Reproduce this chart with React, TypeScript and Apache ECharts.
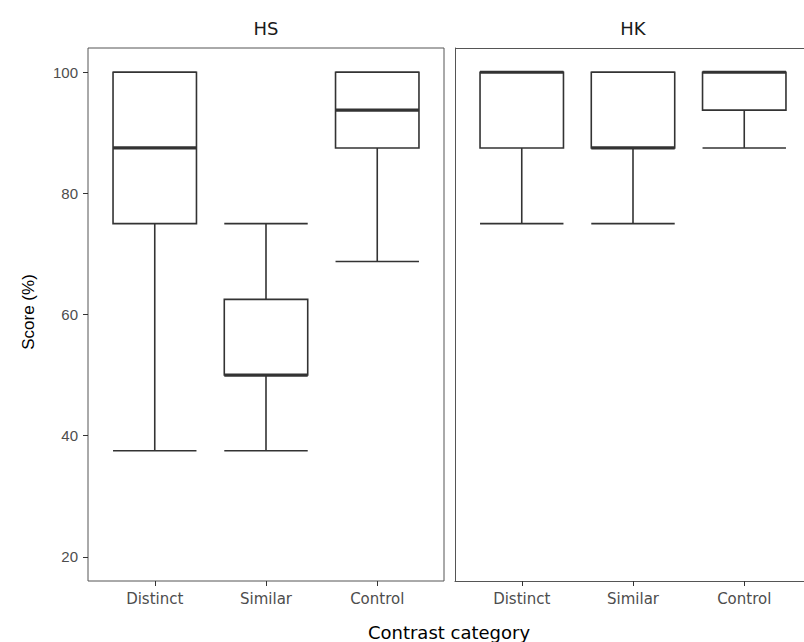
import React, { useEffect, useRef } from 'react';
import * as echarts from 'echarts';

const categories = ['Distinct', 'Similar', 'Control'];
const panels = ['HS', 'HK'];

// HS group: whisker low, Q1, median, Q3, whisker high
const hsLow = [37.5, 37.5, 68.75];
const hsQ1 = [75, 50, 87.5];
const hsMedian = [87.5, 50, 93.75];
const hsQ3 = [100, 62.5, 100];
const hsHigh = [100, 75, 100];

// HK group
const hkLow = [75, 75, 87.5];
const hkQ1 = [87.5, 87.5, 93.75];
const hkMedian = [100, 87.5, 100];
const hkQ3 = [100, 100, 100];
const hkHigh = [100, 100, 100];

const yTicks = [20, 40, 60, 80, 100];
const xTicks = [1, 2, 3];

const FONT = 'Liberation Sans';
const WIDE_FONT = 'DejaVu Sans';
const STROKE = '#333333';
const BORDER = '#555555';

function buildData(low: number[], q1: number[], med: number[], q3: number[], high: number[]) {
  return categories.map((_, j) => [j + 1, low[j], q1[j], med[j], q3[j], high[j]]);
}

function renderBox(params: any, api: any) {
  const x = api.value(0);
  const lo = api.coord([x, api.value(1)]);
  const q1 = api.coord([x, api.value(2)]);
  const md = api.coord([x, api.value(3)]);
  const q3 = api.coord([x, api.value(4)]);
  const hi = api.coord([x, api.value(5)]);
  const w = api.size([0.75, 0])[0];
  const cx = lo[0];
  const l = cx - w / 2;
  const r = cx + w / 2;
  const lw = 1.6;
  const children: any[] = [];
  if (q3[1] - hi[1] > 0.5) {
    children.push({ type: 'line', shape: { x1: cx, y1: hi[1], x2: cx, y2: q3[1] }, style: { stroke: STROKE, lineWidth: lw } });
  }
  if (lo[1] - q1[1] > 0.5) {
    children.push({ type: 'line', shape: { x1: cx, y1: q1[1], x2: cx, y2: lo[1] }, style: { stroke: STROKE, lineWidth: lw } });
  }
  children.push({ type: 'line', shape: { x1: l, y1: hi[1], x2: r, y2: hi[1] }, style: { stroke: STROKE, lineWidth: lw } });
  children.push({ type: 'line', shape: { x1: l, y1: lo[1], x2: r, y2: lo[1] }, style: { stroke: STROKE, lineWidth: lw } });
  children.push({
    type: 'rect',
    shape: { x: l, y: q3[1], width: w, height: Math.max(q1[1] - q3[1], 0.01) },
    style: { fill: '#ffffff', stroke: STROKE, lineWidth: lw },
  });
  children.push({ type: 'line', shape: { x1: l, y1: md[1], x2: r, y2: md[1] }, style: { stroke: STROKE, lineWidth: 3.2 } });
  return { type: 'group', children };
}

export default function App() {
  const ref = useRef<HTMLDivElement>(null);

  useEffect(() => {
    if (!ref.current) return;
    const chart = echarts.init(ref.current, null, { renderer: 'svg' });

    const gridLefts = [88, 455];
    const grids = gridLefts.map((left, i) => ({
      left,
      top: 48,
      width: 356,
      height: 533,
      show: i === 0,
      borderColor: BORDER,
      borderWidth: 1,
      backgroundColor: '#ffffff',
      containLabel: false,
      outerBoundsMode: 'none',
    }));

    const xAxes = panels.map((_, i) => ({
      type: 'value',
      gridIndex: i,
      min: 0.4,
      max: 3.6,
      splitLine: { show: false },
      axisLine: { show: i === 1, lineStyle: { color: BORDER, width: 1 } },
      axisTick: { show: true, customValues: xTicks, length: 5, lineStyle: { color: STROKE, width: 1 } },
      axisLabel: {
        show: true,
        customValues: xTicks,
        formatter: (v: number) => categories[Math.round(v) - 1] ?? '',
        color: '#4d4d4d',
        fontSize: 15,
        fontFamily: WIDE_FONT,
        margin: 10,
      },
    }));

    const yAxes = panels.map((_, i) => ({
      type: 'value',
      gridIndex: i,
      min: 16,
      max: 104,
      splitLine: { show: false },
      axisLine: { show: i === 1, lineStyle: { color: BORDER, width: 1 } },
      axisTick: { show: i === 0, customValues: yTicks, length: 5, lineStyle: { color: STROKE, width: 1 } },
      axisLabel: {
        show: i === 0,
        customValues: yTicks,
        color: '#4d4d4d',
        fontSize: 15,
        fontFamily: FONT,
        margin: 10,
      },
    }));

    const series = [
      {
        type: 'custom',
        name: panels[0],
        xAxisIndex: 0,
        yAxisIndex: 0,
        renderItem: renderBox,
        data: buildData(hsLow, hsQ1, hsMedian, hsQ3, hsHigh),
      },
      {
        type: 'custom',
        name: panels[1],
        xAxisIndex: 1,
        yAxisIndex: 1,
        renderItem: renderBox,
        data: buildData(hkLow, hkQ1, hkMedian, hkQ3, hkHigh),
      },
    ];

    const option: any = {
      animation: false,
      backgroundColor: '#ffffff',
      textStyle: { fontFamily: FONT },
      grid: grids,
      xAxis: xAxes,
      yAxis: yAxes,
      series,
      graphic: [
        {
          type: 'line',
          shape: { x1: 455, y1: 48.5, x2: 804, y2: 48.5 },
          style: { stroke: BORDER, lineWidth: 1 },
          silent: true,
        },
        {
          type: 'text',
          x: 88 + 178,
          y: 28,
          style: { text: panels[0], fontSize: 18, fontFamily: WIDE_FONT, fill: '#1a1a1a', textAlign: 'center', textVerticalAlign: 'middle' },
        },
        {
          type: 'text',
          x: 455 + 178,
          y: 28,
          style: { text: panels[1], fontSize: 18, fontFamily: WIDE_FONT, fill: '#1a1a1a', textAlign: 'center', textVerticalAlign: 'middle' },
        },
        {
          type: 'text',
          x: 449,
          y: 632,
          style: { text: 'Contrast category', fontSize: 18, fontFamily: WIDE_FONT, fill: '#000000', textAlign: 'center', textVerticalAlign: 'middle' },
        },
        {
          type: 'text',
          x: 28,
          y: 312,
          rotation: Math.PI / 2,
          style: { text: 'Score (%)', fontSize: 17, fontFamily: FONT, fill: '#000000', textAlign: 'center', textVerticalAlign: 'middle' },
        },
      ],
    };

    chart.setOption(option);
    return () => chart.dispose();
  }, []);

  return (
    <div
      ref={ref}
      style={{ position: 'fixed', left: 0, top: 0, width: 804, height: 642, background: '#ffffff' }}
    />
  );
}
